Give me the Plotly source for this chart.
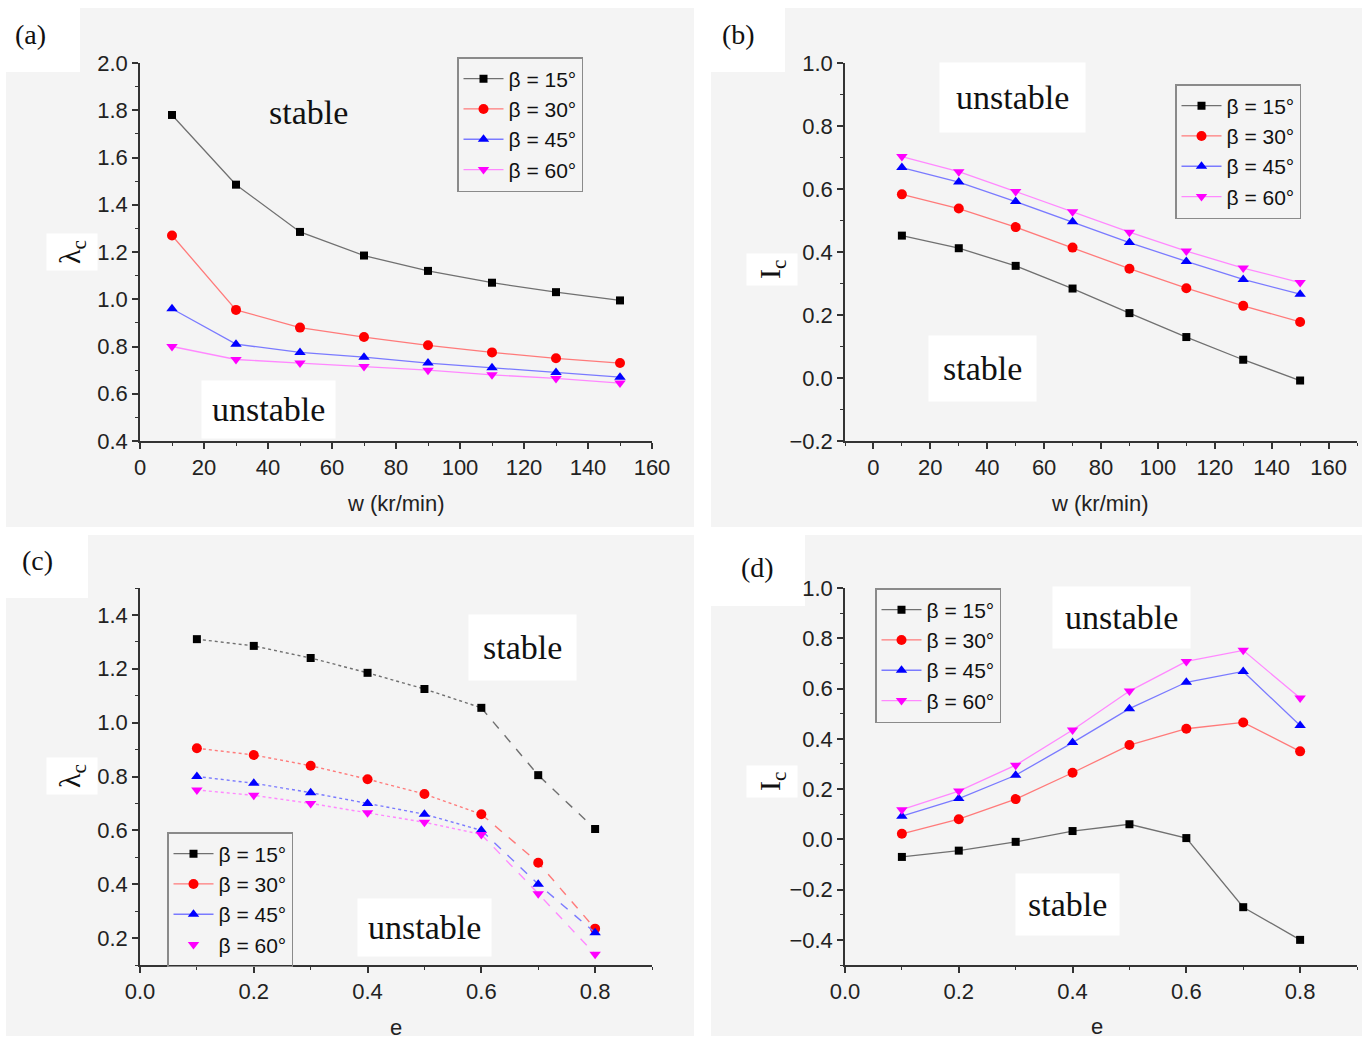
import plotly.graph_objects as go

# ---------------- data ----------------
w_speed = [10, 30, 50, 70, 90, 110, 130, 150]
ecc = [0.1, 0.2, 0.3, 0.4, 0.5, 0.6, 0.7, 0.8]
series_names = ["β = 15°", "β = 30°", "β = 45°", "β = 60°"]

lam_w_15 = [1.78, 1.485, 1.285, 1.185, 1.12, 1.07, 1.03, 0.995]
lam_w_30 = [1.27, 0.955, 0.88, 0.84, 0.805, 0.775, 0.75, 0.73]
lam_w_45 = [0.96, 0.81, 0.775, 0.755, 0.73, 0.71, 0.69, 0.67]
lam_w_60 = [0.80, 0.745, 0.73, 0.715, 0.70, 0.68, 0.665, 0.645]

ic_w_15 = [0.452, 0.412, 0.356, 0.284, 0.206, 0.130, 0.058, -0.008]
ic_w_30 = [0.583, 0.538, 0.479, 0.414, 0.347, 0.285, 0.229, 0.178]
ic_w_45 = [0.668, 0.622, 0.560, 0.496, 0.430, 0.370, 0.313, 0.266]
ic_w_60 = [0.703, 0.655, 0.592, 0.528, 0.463, 0.403, 0.349, 0.303]

lam_e_15 = [1.31, 1.285, 1.24, 1.185, 1.125, 1.055, 0.805, 0.605]
lam_e_30 = [0.905, 0.88, 0.84, 0.79, 0.735, 0.66, 0.48, 0.235]
lam_e_45 = [0.80, 0.775, 0.74, 0.70, 0.66, 0.60, 0.40, 0.22]
lam_e_60 = [0.75, 0.73, 0.70, 0.665, 0.63, 0.585, 0.365, 0.14]

ic_e_15 = [-0.07, -0.045, -0.01, 0.033, 0.06, 0.005, -0.27, -0.40]
ic_e_30 = [0.022, 0.08, 0.16, 0.265, 0.375, 0.44, 0.465, 0.35]
ic_e_45 = [0.092, 0.162, 0.255, 0.385, 0.52, 0.625, 0.668, 0.453]
ic_e_60 = [0.118, 0.192, 0.295, 0.435, 0.59, 0.708, 0.752, 0.562]

# ---------------- styles ----------------
W, H = 1366, 1039
marker_colors = ["#000000", "#ff0000", "#0000ff", "#ff00ff"]
line_colors = ["#707070", "#ff7a7a", "#7a7aff", "#ff88ff"]
symbols = ["square", "circle", "triangle-up", "triangle-down"]
msizes = [8, 10, 10, 10]
SANS = "Liberation Sans, Arial, sans-serif"
SERIF = "Liberation Serif, Times New Roman, serif"


def px(x):
    return x / W


def py(y):
    return 1 - y / H


fig = go.Figure()

panel_axes = [("x", "y", "legend"), ("x2", "y2", "legend2"),
              ("x3", "y3", "legend3"), ("x4", "y4", "legend4")]


def add_series(panel, xs, ys_list):
    xa, ya, lg = panel_axes[panel]
    for i, ys in enumerate(ys_list):
        fig.add_trace(go.Scatter(
            x=xs, y=ys, mode="lines+markers", name=series_names[i],
            xaxis=xa, yaxis=ya, legend=lg,
            line=dict(color=line_colors[i], width=1.3),
            marker=dict(symbol=symbols[i], size=msizes[i], color=marker_colors[i]),
        ))


add_series(0, w_speed, [lam_w_15, lam_w_30, lam_w_45, lam_w_60])
add_series(1, w_speed, [ic_w_15, ic_w_30, ic_w_45, ic_w_60])
add_series(3, ecc, [ic_e_15, ic_e_30, ic_e_45, ic_e_60])

# panel (c): dotted up to e=0.6, dashed afterwards
for i, ys in enumerate([lam_e_15, lam_e_30, lam_e_45, lam_e_60]):
    fig.add_trace(go.Scatter(
        x=ecc[:6], y=ys[:6], mode="lines", showlegend=False,
        xaxis="x3", yaxis="y3",
        line=dict(color=line_colors[i], width=1.4, dash="dot"),
    ))
    fig.add_trace(go.Scatter(
        x=ecc[5:], y=ys[5:], mode="lines", showlegend=False,
        xaxis="x3", yaxis="y3",
        line=dict(color=line_colors[i], width=1.4, dash="dash"),
    ))
    fig.add_trace(go.Scatter(
        x=ecc, y=ys, mode="markers", name=series_names[i],
        xaxis="x3", yaxis="y3", legend="legend3",
        marker=dict(symbol=symbols[i], size=msizes[i], color=marker_colors[i]),
        showlegend=False,
    ))
    # legend entry (no data)
    fig.add_trace(go.Scatter(
        x=[None], y=[None], name=series_names[i],
        mode="markers" if i == 3 else "lines+markers",
        xaxis="x3", yaxis="y3", legend="legend3",
        line=dict(color=line_colors[i], width=1.3),
        marker=dict(symbol=symbols[i], size=msizes[i], color=marker_colors[i]),
    ))

# ---------------- axes ----------------
xdom_l = [px(140), px(652)]
xdom_r = [px(845), px(1357)]
ydom_t = [py(441), py(63)]
ydom_b = [py(965), py(588)]

axis_common = dict(
    showline=True, linecolor="#333333", linewidth=1.5, showgrid=False,
    zeroline=False, ticks="outside", ticklen=6, tickwidth=1.5, tickcolor="#333333",
    tickfont=dict(family=SANS, size=22, color="#222222"),
    minor=dict(ticks="outside", ticklen=3, tickwidth=1.2, tickcolor="#333333"),
    mirror=False,
)

fig.update_layout(
    xaxis=dict(domain=xdom_l, anchor="y", range=[0, 160], tick0=0, dtick=20,
               minor_dtick=10, **axis_common),
    yaxis=dict(domain=ydom_t, anchor="x", range=[0.4, 2.0], tick0=0.4, dtick=0.2,
               tickformat=".1f", minor_dtick=0.1, **axis_common),
    xaxis2=dict(domain=xdom_r, anchor="y2", range=[-10, 170], tick0=0, dtick=20,
                minor_dtick=10, **axis_common),
    yaxis2=dict(domain=ydom_t, anchor="x2", range=[-0.2, 1.0], tick0=0, dtick=0.2,
                tickformat=".1f", minor_dtick=0.1, **axis_common),
    xaxis3=dict(domain=xdom_l, anchor="y3", range=[0, 0.9], tick0=0, dtick=0.2,
                tickformat=".1f", minor_dtick=0.1, **axis_common),
    yaxis3=dict(domain=ydom_b, anchor="x3", range=[0.1, 1.5], tick0=0.2, dtick=0.2,
                tickformat=".1f", minor_dtick=0.1, **axis_common),
    xaxis4=dict(domain=xdom_r, anchor="y4", range=[0, 0.9], tick0=0, dtick=0.2,
                tickformat=".1f", minor_dtick=0.1, **axis_common),
    yaxis4=dict(domain=ydom_b, anchor="x4", range=[-0.5, 1.0], tick0=0, dtick=0.2,
                tickformat=".1f", minor_dtick=0.1, **axis_common),
)

legend_common = dict(
    bgcolor="rgba(0,0,0,0)", bordercolor="#8a8a8a", borderwidth=1.5,
    font=dict(family=SANS, size=21, color="#111111"),
    xanchor="left", yanchor="top", tracegroupgap=0, itemwidth=40,
)
fig.update_layout(
    legend=dict(x=px(457), y=py(57), **legend_common),
    legend2=dict(x=px(1175), y=py(84), **legend_common),
    legend3=dict(x=px(167), y=py(832), **legend_common),
    legend4=dict(x=px(875), y=py(588), **legend_common),
)

# ---------------- backgrounds ----------------
bg = "#f4f4f4"
shapes = []
for (x0, y0, x1, y1) in [(6, 8, 694, 527), (711, 8, 1362, 527),
                         (6, 535, 694, 1036), (711, 535, 1362, 1036)]:
    shapes.append(dict(type="rect", xref="paper", yref="paper",
                       x0=px(x0), x1=px(x1), y0=py(y1), y1=py(y0),
                       fillcolor=bg, line=dict(width=0), layer="below"))
# white patches behind panel labels
for (x0, y0, x1, y1) in [(0, 0, 80, 72), (705, 0, 785, 72),
                         (0, 530, 88, 598), (710, 530, 805, 606)]:
    shapes.append(dict(type="rect", xref="paper", yref="paper",
                       x0=px(x0), x1=px(x1), y0=py(y1), y1=py(y0),
                       fillcolor="white", line=dict(width=0), layer="below"))
fig.update_layout(shapes=shapes)

# ---------------- annotations ----------------
ann = []


def text(x, y, s, size, family=SERIF, box=False, pad=0, angle=0, color="#111111"):
    ann.append(dict(
        x=px(x), y=py(y), xref="paper", yref="paper", text=s, showarrow=False,
        xanchor="center", yanchor="middle", textangle=angle,
        font=dict(family=family, size=size, color=color),
        bgcolor="white" if box else None, borderpad=pad,
    ))


# region labels
text(308, 112, "stable", 34, box=False)
text(268, 409, "unstable", 34, box=True, pad=10)
text(1012, 98, "unstable", 34, box=True, pad=16)
text(983, 368, "stable", 34, box=True, pad=14)
text(522, 647, "stable", 34, box=True, pad=14)
text(424, 927, "unstable", 34, box=True, pad=10)
text(1121, 617, "unstable", 34, box=True, pad=12)
text(1067, 904, "stable", 34, box=True, pad=12)

# panel labels
text(30, 35, "(a)", 28)
text(738, 35, "(b)", 28)
text(37, 560, "(c)", 28)
text(757, 567, "(d)", 28)

# y-axis titles
text(72, 252, "λ<sub>c</sub>", 30, box=True, pad=6, angle=-90)
text(772, 270, "I<sub>c</sub>", 30, box=True, pad=6, angle=-90)
text(72, 776, "λ<sub>c</sub>", 30, box=True, pad=6, angle=-90)
text(772, 782, "I<sub>c</sub>", 30, box=True, pad=6, angle=-90)

# x-axis titles
text(396, 503, "w (kr/min)", 22, family=SANS, color="#222222")
text(1100, 503, "w (kr/min)", 22, family=SANS, color="#222222")
text(396, 1027, "e", 22, family=SANS, color="#222222")
text(1097, 1026, "e", 22, family=SANS, color="#222222")

fig.update_layout(
    annotations=ann,
    width=W, height=H,
    margin=dict(l=0, r=0, t=0, b=0, autoexpand=False),
    paper_bgcolor="white",
    plot_bgcolor="rgba(0,0,0,0)",
    showlegend=True,
)

fig.write_html(
    "out.html",
    config={"displayModeBar": False},
    post_script="document.body.style.margin='0';document.body.style.overflow='hidden';",
)
